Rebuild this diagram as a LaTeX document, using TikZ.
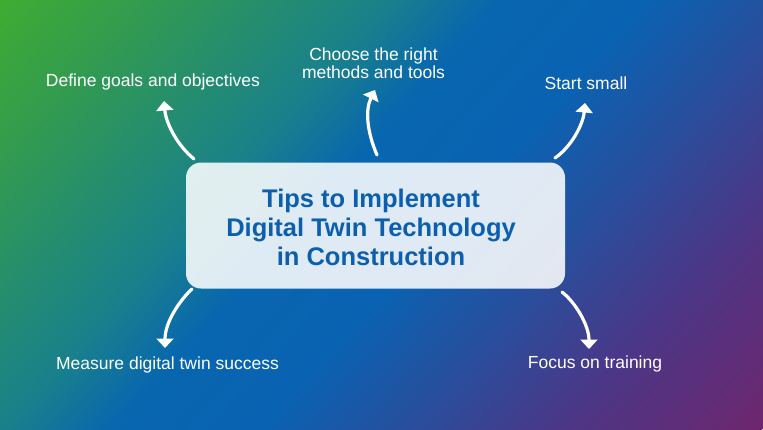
\documentclass[tikz,border=0pt]{standalone}
\usepackage{fontspec}
\setmainfont{Liberation Sans}
\usetikzlibrary{arrows.meta}
\definecolor{g0}{RGB}{62,172,50}
\definecolor{g1}{RGB}{50,155,80}
\definecolor{g2}{RGB}{25,128,140}
\definecolor{g3}{RGB}{8,102,175}
\definecolor{g4}{RGB}{10,98,178}
\definecolor{g5}{RGB}{35,82,160}
\definecolor{g6}{RGB}{75,55,135}
\definecolor{g7}{RGB}{110,38,110}
\definecolor{titleblue}{RGB}{11,95,174}
\pgfdeclarehorizontalshading{bgshade}{100bp}{color(0bp)=(g0); color(25bp)=(g0); color(31.4bp)=(g1); color(42bp)=(g2); color(46.7bp)=(g3); color(53.1bp)=(g4); color(58.4bp)=(g5); color(66bp)=(g6); color(75bp)=(g7); color(100bp)=(g7)}
\tikzset{
  lbl/.style={text=white, font=\fontsize{17.5}{17.8}\selectfont, inner sep=0pt, align=center},
  ttl/.style={text=titleblue, font=\fontsize{25.5}{28.7}\selectfont\bfseries, inner sep=0pt, align=center},
  arrowline/.style={draw=white, line width=3.2pt, line cap=round, -{Triangle[width=17pt,length=9.5pt]}},
  card/.style={draw=none, fill=white, fill opacity=0.87, text opacity=1, rounded corners=15pt, inner sep=0pt}
}
\begin{document}
\begin{tikzpicture}[x=1pt,y=-1pt]
\useasboundingbox (0,0) rectangle (763,429);
% background
\begin{scope}
  \clip (0,0) rectangle (763,429);
  \shade[shading=bgshade, transform canvas={rotate=-42}] (0,-520) rectangle (854,330);
\end{scope}
% central card
\node[card, minimum width=379pt, minimum height=126pt] (box) at (375.5,225.5) {};
\node[ttl] (title) at (371,227.2) {Tips to Implement\\Digital Twin Technology\\in Construction};
% labels
\node[lbl, anchor=base] (goals) at (153,86.5) {Define goals and objectives};
\node[lbl] (methods) at (373.5,63.4) {Choose the right\\methods and tools};
\node[lbl, anchor=base] (small) at (586,89.3) {Start small};
\node[lbl, anchor=base] (measure) at (167.5,369) {Measure digital twin success};
\node[lbl, anchor=base] (training) at (595,368.3) {Focus on training};
% arrow end points
\coordinate (s1) at (194,159); \coordinate (e1) at (164,101);
\coordinate (s2) at (377,155); \coordinate (e2) at (375,90);
\coordinate (s3) at (555,158); \coordinate (e3) at (585,103);
\coordinate (s4) at (192,289); \coordinate (e4) at (165,348);
\coordinate (s5) at (562,292); \coordinate (e5) at (589,349);
% arrows
\draw[arrowline] (s1) .. controls (178,146) and (166,124) .. (e1);
\draw[arrowline] (s2) .. controls (367,132) and (365,110) .. (e2);
\draw[arrowline] (s3) .. controls (571,147) and (583,125) .. (e3);
\draw[arrowline] (s4) .. controls (180,300) and (165,322) .. (e4);
\draw[arrowline] (s5) .. controls (575,302) and (589,325) .. (e5);
\end{tikzpicture}
\end{document}
